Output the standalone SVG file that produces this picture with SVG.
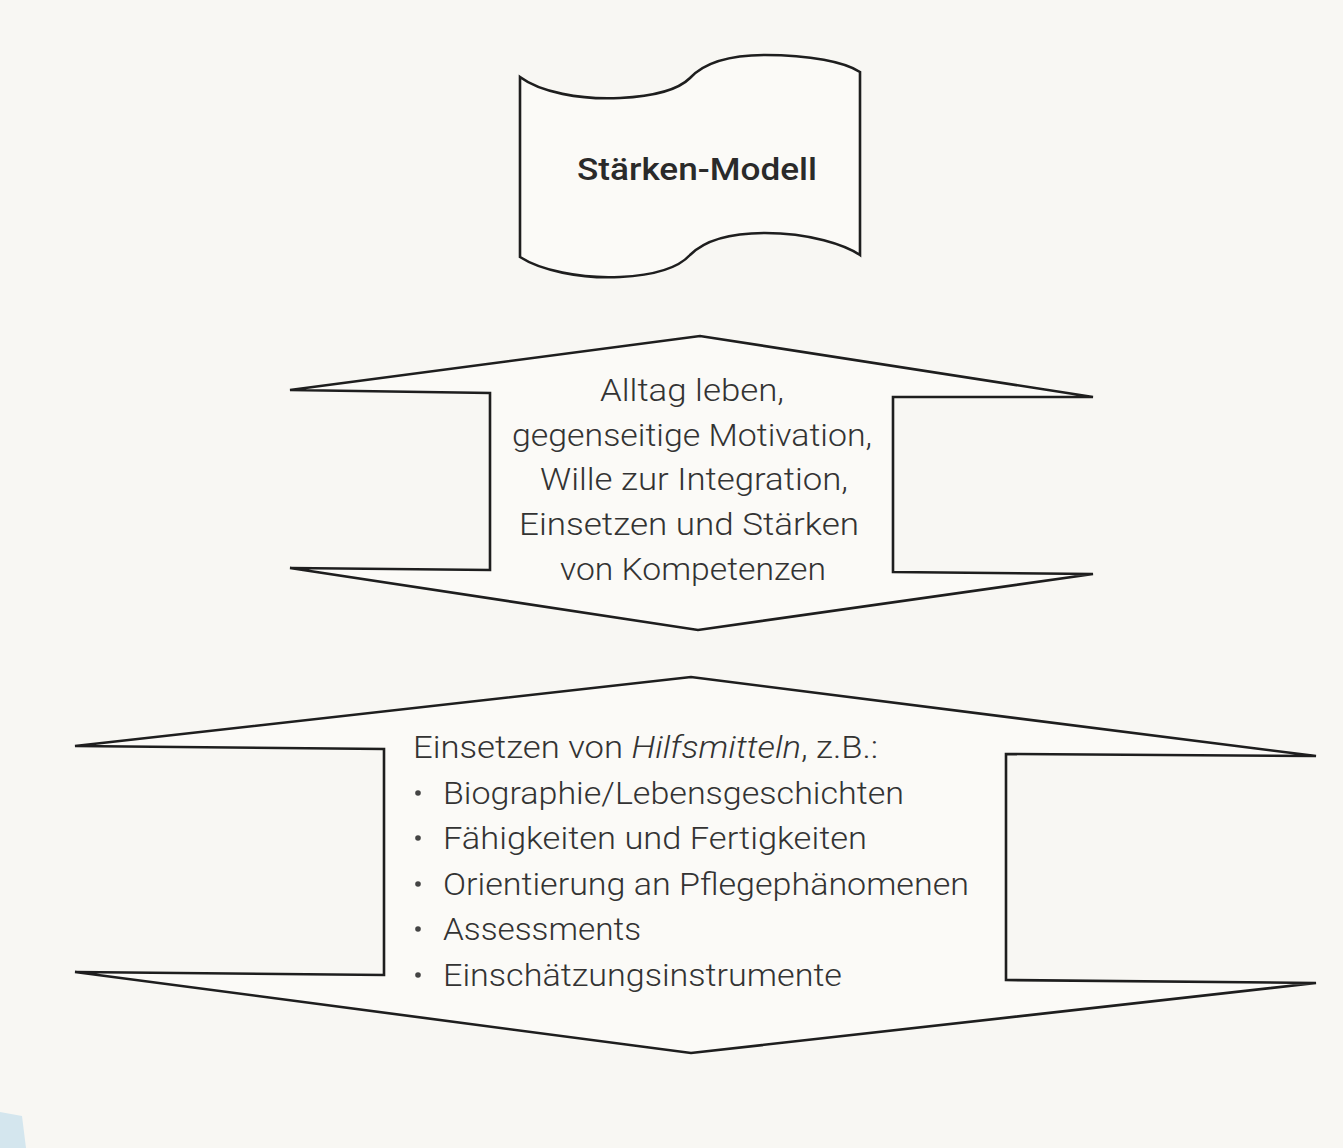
<svg xmlns="http://www.w3.org/2000/svg" width="1343" height="1148" viewBox="0 0 1343 1148">
  <style>
    .shape { fill: #fbfaf7; stroke: #1e1e1e; stroke-width: 2.6; stroke-linejoin: miter; }
    .title { font-family: Roboto, "Liberation Sans", Arial, sans-serif; font-weight: 500; font-size: 31px; fill: #2a2a2a; }
    .body { font-family: Roboto, "Liberation Sans", Arial, sans-serif; font-weight: 300; font-size: 32px; fill: #333333; }
    .mid { text-anchor: middle; }
    .bullet { fill: #444444; }
  </style>
  <rect x="0" y="0" width="1343" height="1148" fill="#f8f7f3"/>
  <path d="M0,1112 L22,1116 L26,1148 L0,1148 Z" fill="#d4e6ee"/>

  <g id="node-staerken-modell">
    <path class="shape" d="M520,77 C540,92 580,100 620,98 C660,96 680,88 690,78 C705,62 730,55 765,55 C810,55 845,62 860,72 L860,255 C845,245 810,233 765,233 C730,233 705,240 690,255 C680,266 660,275 620,277 C580,279 540,270 520,257 Z"/>
    <text class="title" x="697" y="180" text-anchor="middle" textLength="240" lengthAdjust="spacingAndGlyphs">Stärken-Modell</text>
  </g>

  <g id="node-alltag">
    <polygon class="shape" points="290,390 700,336 1093,397 893,397 893,572 1093,574 698,630 290,568 490,570 490,393"/>
    <text class="body mid" x="692" y="401" textLength="184" lengthAdjust="spacingAndGlyphs">Alltag leben,</text>
    <text class="body mid" x="692" y="446" textLength="360" lengthAdjust="spacingAndGlyphs">gegenseitige Motivation,</text>
    <text class="body mid" x="694" y="490" textLength="308" lengthAdjust="spacingAndGlyphs">Wille zur Integration,</text>
    <text class="body mid" x="689" y="535" textLength="340" lengthAdjust="spacingAndGlyphs">Einsetzen und Stärken</text>
    <text class="body mid" x="693" y="580" textLength="266" lengthAdjust="spacingAndGlyphs">von Kompetenzen</text>
  </g>

  <g id="node-hilfsmittel">
    <polygon class="shape" points="75,746 691,677 1316,756 1006,754 1006,980 1316,983 691,1053 75,972 384,975 384,749"/>
    <text class="body" x="413" y="758" textLength="465" lengthAdjust="spacingAndGlyphs">Einsetzen von <tspan font-style="italic">Hilfsmitteln</tspan>, z.B.:</text>
    <circle class="bullet" cx="418" cy="793" r="2.8"/>
    <text class="body" x="443" y="804" textLength="461" lengthAdjust="spacingAndGlyphs">Biographie/Lebensgeschichten</text>
    <circle class="bullet" cx="418" cy="838" r="2.8"/>
    <text class="body" x="443" y="849" textLength="424" lengthAdjust="spacingAndGlyphs">Fähigkeiten und Fertigkeiten</text>
    <circle class="bullet" cx="418" cy="884" r="2.8"/>
    <text class="body" x="443" y="895" textLength="526" lengthAdjust="spacingAndGlyphs">Orientierung an Pflegephänomenen</text>
    <circle class="bullet" cx="418" cy="929" r="2.8"/>
    <text class="body" x="443" y="940" textLength="198" lengthAdjust="spacingAndGlyphs">Assessments</text>
    <circle class="bullet" cx="418" cy="975" r="2.8"/>
    <text class="body" x="443" y="986" textLength="399" lengthAdjust="spacingAndGlyphs">Einschätzungsinstrumente</text>
  </g>

  <g id="connectors"></g>
</svg>
